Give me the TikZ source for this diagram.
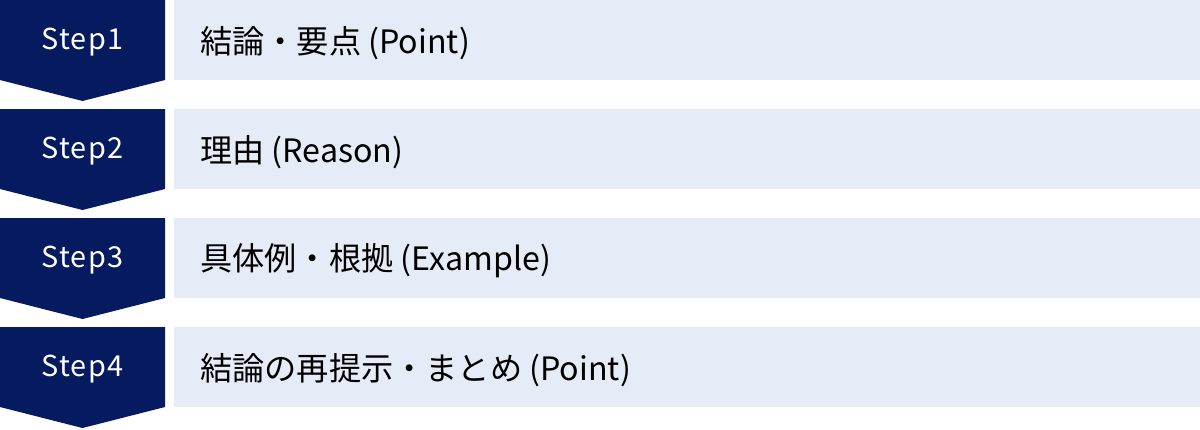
\documentclass[tikz,border=0pt]{standalone}
\usepackage{fontspec}
\setmainfont{Noto Sans CJK JP}
\newfontfamily\stepfont[LetterSpace=5]{Noto Sans CJK JP}
\definecolor{stepnavy}{HTML}{061A60}
\definecolor{boxblue}{HTML}{E6EBF8}
\tikzset{
	steplabel/.style={text=white, font=\stepfont\fontsize{20.5}{24}\selectfont, inner sep=0pt},
	itemlabel/.style={text=black, font=\fontsize{22.9}{27}\selectfont, anchor=west, inner sep=0pt},
}

\begin{document}
\begin{tikzpicture}[x=0.025cm, y=-0.025cm]
		\useasboundingbox (0,0) rectangle (1200,429);
		
		\fill[stepnavy] (0,0) -- (165,0) -- (165,80) -- (82.5,101) -- (0,80) -- cycle;
		\fill[boxblue] (174,0) rectangle (1200,80);
		\node[steplabel] at (82.5,42) (s1) {Step1};
		\node[itemlabel] at (200,43) (p1) {結論・要点 (Point)};
		
		\fill[stepnavy] (0,109) -- (165,109) -- (165,189) -- (82.5,210) -- (0,189) -- cycle;
		\fill[boxblue] (174,109) rectangle (1200,189);
		\node[steplabel] at (82.5,151) (s2) {Step2};
		\node[itemlabel] at (200,152) (p2) {理由 (Reason)};
		
		\fill[stepnavy] (0,218) -- (165,218) -- (165,298) -- (82.5,319) -- (0,298) -- cycle;
		\fill[boxblue] (174,218) rectangle (1200,298);
		\node[steplabel] at (82.5,260) (s3) {Step3};
		\node[itemlabel] at (200,261) (p3) {具体例・根拠 (Example)};
		
		\fill[stepnavy] (0,327) -- (165,327) -- (165,407) -- (82.5,428) -- (0,407) -- cycle;
		\fill[boxblue] (174,327) rectangle (1200,407);
		\node[steplabel] at (82.5,369) (s4) {Step4};
		\node[itemlabel] at (200,370) (p4) {結論の再提示・まとめ (Point)};
	\end{tikzpicture}
\end{document}
